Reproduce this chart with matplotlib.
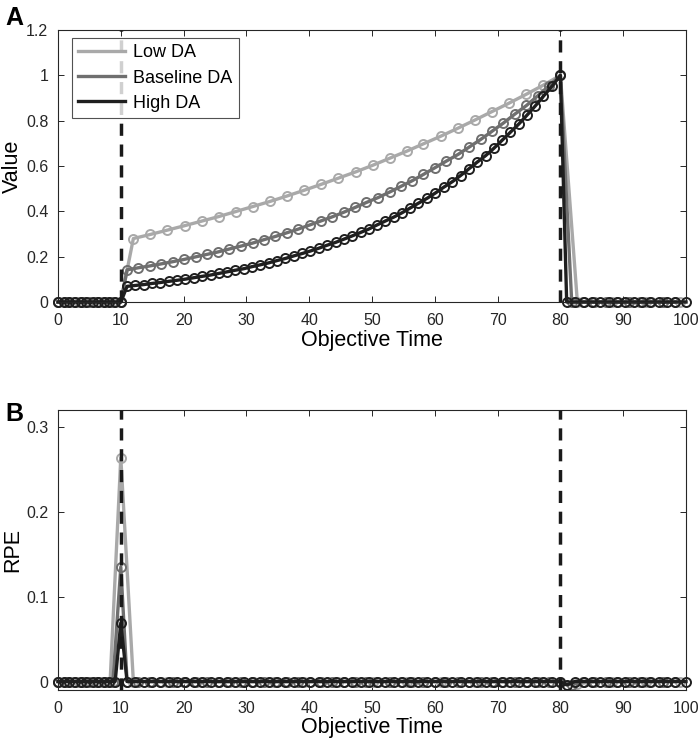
import matplotlib
matplotlib.use('Agg')
import matplotlib.pyplot as plt

plt.rcParams['font.family'] = ['Liberation Sans', 'DejaVu Sans']
plt.rcParams['font.size'] = 11

labels = ['Low DA', 'Baseline DA', 'High DA']
colors = ['#a9a9a9', '#6f6f6f', '#1f1f1f']

# time samples of each model (objective time)
low_pre = [0, 1.7, 3.3, 5, 6.7, 8.3, 10]
low_x = [12.0, 14.7, 17.4, 20.2, 22.9, 25.6, 28.3, 31.0, 33.8, 36.5, 39.2, 41.9, 44.6,
         47.4, 50.1, 52.8, 55.5, 58.2, 61.0, 63.7, 66.4, 69.1, 71.8, 74.6, 77.3, 80.0]
low_post = [82.7, 85.4, 88.2, 90.9, 93.6, 96.3, 99.0]
low_v = [0.280, 0.298, 0.317, 0.337, 0.357, 0.377, 0.399, 0.421, 0.444, 0.468, 0.493, 0.519, 0.546,
         0.574, 0.603, 0.634, 0.665, 0.698, 0.732, 0.767, 0.803, 0.840, 0.877, 0.917, 0.957, 1.000]

base_pre = [0, 1.25, 2.5, 3.75, 5, 6.25, 7.5, 8.75, 10]
base_x = [11.0, 12.8, 14.6, 16.4, 18.3, 20.1, 21.9, 23.7, 25.5, 27.3, 29.2, 31.0, 32.8, 34.6,
          36.4, 38.2, 40.1, 41.9, 43.7, 45.5, 47.3, 49.1, 51.0, 52.8, 54.6, 56.4, 58.2, 60.0,
          61.8, 63.7, 65.5, 67.3, 69.1, 70.9, 72.7, 74.6, 76.4, 78.2, 80.0]
base_post = [81.8, 83.6, 85.4, 87.3, 89.1, 90.9, 92.7, 94.5, 96.4, 98.2]
base_v = [0.142, 0.151, 0.159, 0.168, 0.178, 0.188, 0.199, 0.210, 0.221, 0.234, 0.247, 0.260, 0.275,
          0.289, 0.305, 0.321, 0.340, 0.358, 0.376, 0.396, 0.417, 0.439, 0.461, 0.485, 0.510, 0.535,
          0.563, 0.592, 0.621, 0.651, 0.684, 0.717, 0.753, 0.789, 0.828, 0.867, 0.910, 0.954, 1.000]

high_pre = [0, 0.9, 1.8, 2.7, 3.6, 4.5, 5.5, 6.4, 7.3, 8.2, 9.1, 10]
high_x = [11.0, 12.3, 13.7, 15.0, 16.3, 17.6, 19.0, 20.3, 21.6, 22.9, 24.3, 25.6, 26.9, 28.2,
          29.6, 30.9, 32.2, 33.6, 34.9, 36.2, 37.5, 38.9, 40.2, 41.5, 42.8, 44.2, 45.5, 46.8,
          48.2, 49.5, 50.8, 52.1, 53.5, 54.8, 56.1, 57.4, 58.8, 60.1, 61.4, 62.8, 64.1, 65.4,
          66.7, 68.1, 69.4, 70.7, 72.0, 73.4, 74.7, 76.0, 77.3, 78.7, 80.0]
high_post = [81.0, 82.3, 83.7, 85.0, 86.3, 87.7, 89.0, 90.3, 91.7, 93.0, 94.3, 95.7, 97.0, 98.3, 100.0]
high_v = [0.069, 0.073, 0.077, 0.082, 0.086, 0.091, 0.096, 0.101, 0.107, 0.113, 0.119, 0.126, 0.133,
          0.140, 0.147, 0.156, 0.164, 0.173, 0.183, 0.192, 0.203, 0.214, 0.225, 0.237, 0.250, 0.263,
          0.277, 0.291, 0.307, 0.322, 0.340, 0.357, 0.375, 0.394, 0.415, 0.436, 0.458, 0.481, 0.506,
          0.531, 0.558, 0.587, 0.616, 0.646, 0.678, 0.713, 0.748, 0.786, 0.825, 0.865, 0.908, 0.953, 1.000]

# RPE peaks at cue onset (t=10) and small dip after reward
rpe_peak = [0.264, 0.135, 0.069]
rpe_dip = [-0.003, -0.004, -0.004]

cue_t, reward_t = 10, 80

series = [(low_pre, low_x, low_post, low_v),
          (base_pre, base_x, base_post, base_v),
          (high_pre, high_x, high_post, high_v)]

fig = plt.figure(figsize=(6.99, 7.46), dpi=100)
axA = fig.add_axes([58/699, 1-302/746, 628/699, 272/746])
axB = fig.add_axes([58/699, 1-690/746, 628/699, 280/746])

for (pre, xs, post, vs), c, lab in zip(series, colors, labels):
    t = pre + xs + post
    v = [0]*len(pre) + vs + [0]*len(post)
    axA.plot(t, v, '-o', color=c, lw=2.4, ms=6.5, mfc='none', mew=1.4, label=lab, clip_on=False)

for (pre, xs, post, vs), c, pk, dp in zip(series, colors, rpe_peak, rpe_dip):
    t = pre + xs + post
    r = [0]*(len(pre)-1) + [pk] + [0]*len(xs) + [dp] + [0]*(len(post)-1)
    axB.plot(t, r, '-o', color=c, lw=2.4, ms=6.5, mfc='none', mew=1.4, clip_on=False)

for ax in (axA, axB):
    ax.axvline(cue_t, color='#1a1a1a', lw=2.5, ls=(0, (3.5, 2.5)), zorder=5)
    ax.axvline(reward_t, color='#1a1a1a', lw=2.5, ls=(0, (3.5, 2.5)), zorder=5)
    ax.set_xlim(0, 100)
    ax.set_xticks(range(0, 101, 10))
    ax.tick_params(direction='in', top=True, right=True, length=4, width=0.7,
                   colors='#262626', labelsize=11.5)
    ax.tick_params(axis='x', pad=8)
    ax.tick_params(axis='y', pad=7)
    for s in ax.spines.values():
        s.set_linewidth(0.8)
        s.set_color('#262626')
    ax.set_xlabel('Objective Time', fontsize=15.5, labelpad=1)

axA.set_ylim(0, 1.2)
axA.set_yticks([0, 0.2, 0.4, 0.6, 0.8, 1, 1.2])
axA.set_yticklabels(['0', '0.2', '0.4', '0.6', '0.8', '1', '1.2'])
axA.set_ylabel('Value', fontsize=15.5, labelpad=2)
leg = axA.legend(loc='upper left', fontsize=13, handlelength=2.6, handletextpad=0.45,
                 frameon=True, fancybox=False, edgecolor='#262626', borderpad=0.35,
                 labelspacing=0.45, borderaxespad=0, bbox_to_anchor=(0.022, 0.97))
leg.get_frame().set_linewidth(0.8)
leg.set_zorder(10)
for h in leg.get_lines():
    h.set_marker('')

axB.set_ylim(-0.01, 0.32)
axB.set_yticks([0, 0.1, 0.2, 0.3])
axB.set_yticklabels(['0', '0.1', '0.2', '0.3'])
axB.set_ylabel('RPE', fontsize=15.5, labelpad=2)

fig.text(5/699, 1-18/746, 'A', fontsize=18, fontweight='bold', va='center')
fig.text(5/699, 1-414/746, 'B', fontsize=18, fontweight='bold', va='center')

fig.savefig('out.png', dpi=100)
